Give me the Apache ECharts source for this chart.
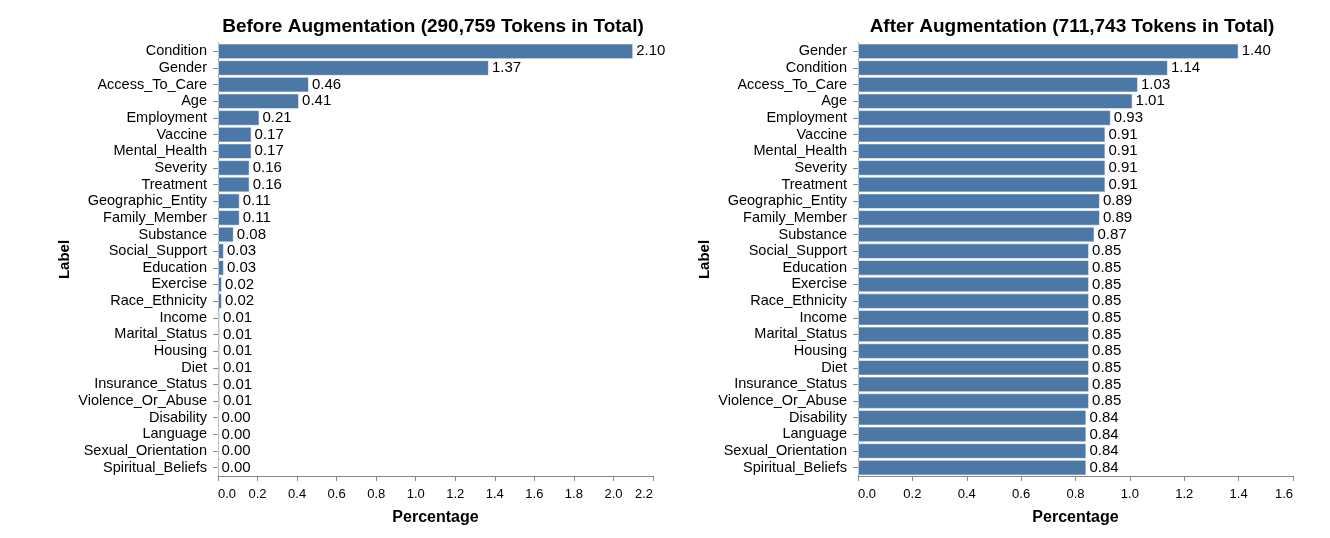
<!DOCTYPE html>
<html>
<head>
<meta charset="utf-8">
<script src="https://cdn.jsdelivr.net/npm/echarts@6/dist/echarts.min.js"></script>
<style>
html,body{margin:0;padding:0;background:#fff;}
#chart{width:1330px;height:538px;}
</style>
</head>
<body>
<div id="chart"></div>
<script>
const beforeTitle = 'Before Augmentation (290,759 Tokens in Total)';
const afterTitle = 'After Augmentation (711,743 Tokens in Total)';
const beforeLabels = ['Condition','Gender','Access_To_Care','Age','Employment','Vaccine','Mental_Health','Severity','Treatment','Geographic_Entity','Family_Member','Substance','Social_Support','Education','Exercise','Race_Ethnicity','Income','Marital_Status','Housing','Diet','Insurance_Status','Violence_Or_Abuse','Disability','Language','Sexual_Orientation','Spiritual_Beliefs'];
const beforeValues = [2.10,1.37,0.46,0.41,0.21,0.17,0.17,0.16,0.16,0.11,0.11,0.08,0.03,0.03,0.02,0.02,0.01,0.01,0.01,0.01,0.01,0.01,0.00,0.00,0.00,0.00];
const afterLabels = ['Gender','Condition','Access_To_Care','Age','Employment','Vaccine','Mental_Health','Severity','Treatment','Geographic_Entity','Family_Member','Substance','Social_Support','Education','Exercise','Race_Ethnicity','Income','Marital_Status','Housing','Diet','Insurance_Status','Violence_Or_Abuse','Disability','Language','Sexual_Orientation','Spiritual_Beliefs'];
const afterValues = [1.40,1.14,1.03,1.01,0.93,0.91,0.91,0.91,0.91,0.89,0.89,0.87,0.85,0.85,0.85,0.85,0.85,0.85,0.85,0.85,0.85,0.85,0.84,0.84,0.84,0.84];
const beforeMax = 2.2, afterMax = 1.6, tickStep = 0.2;

const FONT = '"Liberation Sans", Arial, Helvetica, sans-serif';
const chart = echarts.init(document.getElementById('chart'));

function xAxis(gridIndex, max) {
  return {
    type: 'value', gridIndex, min: 0, max, interval: tickStep,
    name: 'Percentage', nameLocation: 'middle', nameGap: 34,
    nameTextStyle: {fontFamily: FONT, fontSize: 16, fontWeight: 'bold', color: '#000'},
    axisLine: {show: true, lineStyle: {color: '#888', width: 1}},
    axisTick: {show: true, length: 5, lineStyle: {color: '#888'}},
    axisLabel: {fontFamily: FONT, fontSize: 13, color: '#000', margin: 12,
      formatter: v => v.toFixed(1), alignMinLabel: 'left', alignMaxLabel: 'right'},
    splitLine: {show: false}
  };
}
function yAxis(gridIndex, cats) {
  return {
    type: 'category', gridIndex, data: cats, inverse: true,
    name: 'Label', nameLocation: 'middle', nameGap: 146,
    nameTextStyle: {fontFamily: FONT, fontSize: 15, fontWeight: 'bold', color: '#000'},
    axisLine: {show: true, lineStyle: {color: '#888', width: 1}},
    axisTick: {show: true, length: 5, alignWithLabel: true, lineStyle: {color: '#888'}},
    axisLabel: {fontFamily: FONT, fontSize: 14.5, color: '#000', margin: 11, interval: 0},
    splitLine: {show: false}
  };
}
function series(idx, vals) {
  return {
    type: 'bar', xAxisIndex: idx, yAxisIndex: idx, data: vals,
    barCategoryGap: '6%',
    itemStyle: {color: '#4c78a8', borderColor: 'rgba(255,255,255,0.55)', borderWidth: 1},
    label: {show: true, position: 'right', distance: 3, fontFamily: FONT, fontSize: 15, color: '#000',
      formatter: p => p.value.toFixed(2)},
    animation: false
  };
}

chart.setOption({
  animation: false,
  grid: [
    {left: 218, top: 43, width: 435, height: 433},
    {left: 858, top: 43, width: 435, height: 433}
  ],
  xAxis: [xAxis(0, beforeMax), xAxis(1, afterMax)],
  yAxis: [yAxis(0, beforeLabels), yAxis(1, afterLabels)],
  series: [series(0, beforeValues), series(1, afterValues)],
  graphic: [
    {type: 'text', x: 433, y: 27, style: {text: beforeTitle, font: 'bold 19px ' + FONT, fill: '#000', align: 'center', verticalAlign: 'middle', textAlign: 'center', textVerticalAlign: 'middle'}},
    {type: 'text', x: 1072, y: 27, style: {text: afterTitle, font: 'bold 19px ' + FONT, fill: '#000', align: 'center', verticalAlign: 'middle', textAlign: 'center', textVerticalAlign: 'middle'}}
  ]
});
</script>
</body>
</html>
